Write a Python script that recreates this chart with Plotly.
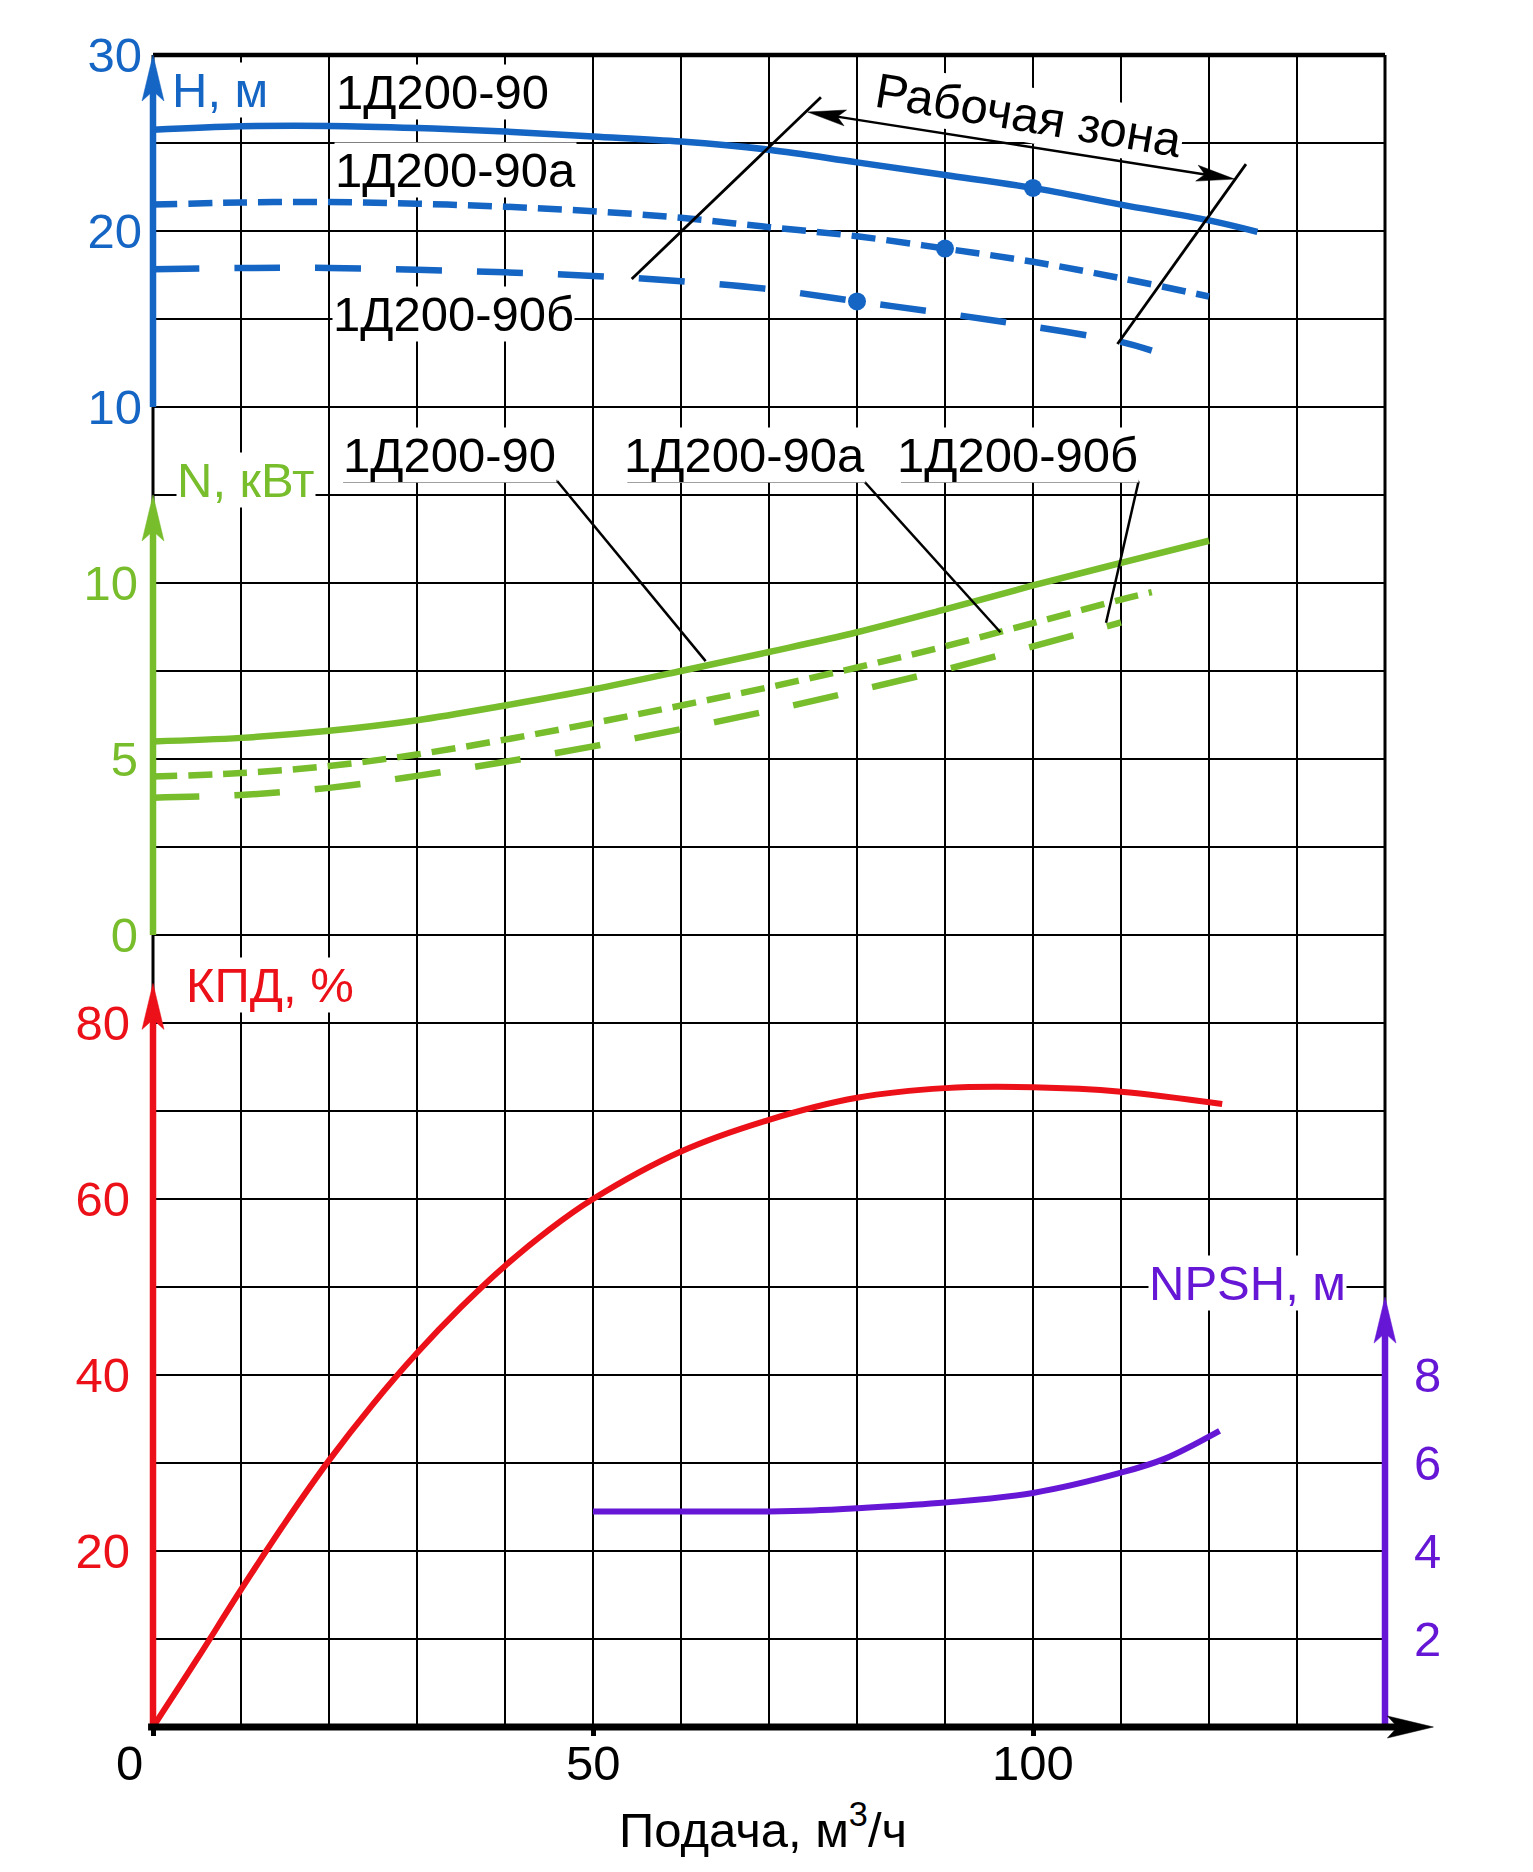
import math
import plotly.graph_objects as go

# ---------------- data ----------------
# Head H, m
Q_H90 = [0, 10, 20, 30, 40, 50, 60, 70, 80, 90, 100, 110, 120, 125.5]
H_90 = [25.75, 25.95, 25.97, 25.85, 25.65, 25.37, 25.08, 24.62, 23.9, 23.18, 22.45, 21.5, 20.6, 19.95]
Q_H90A = [0, 10, 20, 30, 40, 50, 60, 70, 80, 90, 100, 110, 120]
H_90A = [21.5, 21.62, 21.65, 21.55, 21.38, 21.12, 20.75, 20.22, 19.7, 19.0, 18.25, 17.32, 16.28]
Q_H90B = [0, 10, 20, 30, 40, 50, 60, 70, 80, 90, 100, 110, 113.5]
H_90B = [17.83, 17.9, 17.9, 17.8, 17.65, 17.45, 17.15, 16.7, 16.0, 15.32, 14.57, 13.7, 13.2]
PT_Q = [100, 90, 80]
PT_H = [22.45, 19.0, 16.0]

# Power N, kW
Q_N90 = [0, 10, 20, 30, 40, 50, 60, 70, 80, 90, 100, 110, 120]
N_90 = [5.5, 5.6, 5.8, 6.1, 6.52, 6.98, 7.5, 8.04, 8.6, 9.25, 9.93, 10.57, 11.2]
Q_N90A = [0, 10, 20, 30, 40, 50, 60, 70, 80, 90, 100, 110, 113.5]
N_90A = [4.5, 4.6, 4.8, 5.13, 5.55, 6.02, 6.52, 7.04, 7.6, 8.2, 8.86, 9.53, 9.74]
Q_N90B = [0, 10, 20, 30, 40, 50, 60, 70, 80, 90, 100, 110]
N_90B = [3.9, 3.98, 4.18, 4.52, 4.92, 5.36, 5.85, 6.37, 6.94, 7.54, 8.2, 8.88]

# Efficiency, %
Q_EFF = [0, 5, 10, 15, 20, 25, 30, 35, 40, 45, 50, 60, 70, 80, 90, 100, 110, 121.5]
EFF = [0, 7.7, 15.6, 23.2, 30.3, 36.7, 42.5, 47.7, 52.4, 56.5, 60.0, 65.4, 69.0, 71.5, 72.6, 72.7, 72.2, 70.8]

# NPSH, m
Q_NPSH = [50, 60, 70, 75, 80, 90, 100, 110, 115, 121.2]
NPSH = [4.9, 4.9, 4.9, 4.92, 4.97, 5.1, 5.32, 5.78, 6.1, 6.73]

X_TICKS = [0, 50, 100]
H_TICKS = [10, 20, 30]
N_TICKS = [0, 5, 10]
EFF_TICKS = [20, 40, 60, 80]
NPSH_TICKS = [2, 4, 6, 8]

LBL = ["1Д200-90", "1Д200-90а", "1Д200-90б"]

# ---------------- layout geometry ----------------
OFF = 8                      # page body margin of the html page
W, HT = 1517, 1856
ML, MT = 145, 47
PW, PH = 1232, 1672
MR, MB = W - ML - PW, HT - MT - PH
PLOT_L = OFF + ML            # page coordinates of the plot area
PLOT_B = OFF + MT + PH
X_RANGE = [0, 140]
H_RANGE = [-65, 30]
N_RANGE = [-22.5, 25]
E_RANGE = [0, 190]
P_RANGE = [0, 38]

def ppu(r, length):
    return length / (r[1] - r[0])

PX_X = ppu(X_RANGE, PW)
PX_H = ppu(H_RANGE, PH)
PX_N = ppu(N_RANGE, PH)
PX_E = ppu(E_RANGE, PH)
PX_P = ppu(P_RANGE, PH)

BLUE = "#1565c4"
GREEN = "#77bd2c"
RED = "#ec1018"
PURPLE = "#6617d6"
BLACK = "#000000"
FONT = "Liberation Sans, Arial, sans-serif"
FS = 49

SHORT_DASH = "24px,11px"
LONG_DASH = "46px,35px"

fig = go.Figure()

def line(x, y, yaxis, color, dash=None, width=6.5):
    fig.add_trace(go.Scatter(x=x, y=y, yaxis=yaxis, mode="lines",
                             line=dict(color=color, width=width, dash=dash, shape="spline"),
                             hoverinfo="skip", showlegend=False))

line(Q_H90, H_90, "y", BLUE)
line(Q_H90A, H_90A, "y", BLUE, SHORT_DASH)
line(Q_H90B, H_90B, "y", BLUE, LONG_DASH)
fig.add_trace(go.Scatter(x=PT_Q, y=PT_H, yaxis="y", mode="markers",
                         marker=dict(color=BLUE, size=18), hoverinfo="skip", showlegend=False))
line(Q_N90, N_90, "y2", GREEN)
line(Q_N90A, N_90A, "y2", GREEN, SHORT_DASH)
line(Q_N90B, N_90B, "y2", GREEN, LONG_DASH)
line(Q_EFF, EFF, "y3", RED, width=6)
line(Q_NPSH, NPSH, "y4", PURPLE, width=6)

shapes = []
annotations = []

def head_path(dx, dy, length=46, halfw=11, notch=36):
    L = math.hypot(dx, dy)
    ux, uy = dx / L, dy / L
    px, py = -uy, ux
    p1 = (-ux * length + px * halfw, -uy * length + py * halfw)
    p2 = (-ux * notch, -uy * notch)
    p3 = (-ux * length - px * halfw, -uy * length - py * halfw)
    return "M0,0L%.2f,%.2fL%.2f,%.2fL%.2f,%.2fZ" % (p1[0], p1[1], p2[0], p2[1], p3[0], p3[1])

def head(xref, yref, xa, ya, dx, dy, color, **kw):
    shapes.append(dict(type="path", xref=xref, yref=yref, xsizemode="pixel", ysizemode="pixel",
                       xanchor=xa, yanchor=ya, path=head_path(dx, dy, **kw),
                       fillcolor=color, line=dict(color=color, width=0.5)))

def seg(xref, yref, x0, y0, x1, y1, color=BLACK, width=2.5):
    shapes.append(dict(type="line", xref=xref, yref=yref, x0=x0, y0=y0, x1=x1, y1=y1,
                       line=dict(color=color, width=width)))

# frame
seg("paper", "paper", 0, 0, 0, 1, BLACK, 3)
seg("paper", "paper", 1, 0, 1, 1, BLACK, 3)
seg("paper", "paper", 0, 1, 1, 1, BLACK, 4.5)

# coloured axes with arrow heads
BACK = 30  # px, line stops inside the arrow head
seg("paper", "y", 0, 10, 0, H_RANGE[1] - BACK / PX_H, BLUE, 6.5)
head("paper", "y", 0, H_RANGE[1], 0, 1, BLUE)
N_TOP = 12.5
seg("paper", "y2", 0, 0, 0, N_TOP - BACK / PX_N, GREEN, 6.5)
head("paper", "y2", 0, N_TOP, 0, 1, GREEN)
E_TOP = 84.5
seg("paper", "y3", 0, 0, 0, E_TOP - BACK / PX_E, RED, 6.5)
head("paper", "y3", 0, E_TOP, 0, 1, RED)
P_TOP = 9.77
seg("paper", "y4", 1, 0, 1, P_TOP - BACK / PX_P, PURPLE, 6.5)
head("paper", "y4", 1, P_TOP, 0, 1, PURPLE)
X_TIP = 145.5 / X_RANGE[1]
seg("paper", "paper", -0.004, 0, X_TIP - BACK / PW, 0, BLACK, 7)
head("paper", "paper", X_TIP, 0, 1, 0, BLACK)

# working zone
seg("x", "y", 75.9, 27.6, 54.4, 17.27, BLACK, 2.8)
seg("x", "y", 124.2, 23.8, 109.6, 13.58, BLACK, 2.8)
A0 = (74.4, 26.76)
A1 = (122.9, 22.95)
dxp = (A1[0] - A0[0]) * PX_X
dyp = (A1[1] - A0[1]) * PX_H
Lp = math.hypot(dxp, dyp)
sh = 20 / Lp
seg("x", "y", A0[0] + (A1[0] - A0[0]) * sh, A0[1] + (A1[1] - A0[1]) * sh,
    A1[0] - (A1[0] - A0[0]) * sh, A1[1] - (A1[1] - A0[1]) * sh, BLACK, 2.5)
head("x", "y", A1[0], A1[1], dxp, dyp, BLACK, length=38, halfw=8, notch=30)
head("x", "y", A0[0], A0[1], -dxp, -dyp, BLACK, length=38, halfw=8, notch=30)

# leader lines for power curves
UL_Y = 12.89
seg("x", "y2", 21.6, UL_Y, 45.95, UL_Y, BLACK, 2.8)
seg("x", "y2", 45.95, UL_Y, 62.8, 7.78, BLACK, 2.5)
seg("x", "y2", 53.9, UL_Y, 80.8, UL_Y, BLACK, 2.8)
seg("x", "y2", 80.8, UL_Y, 96.3, 8.6, BLACK, 2.5)
seg("x", "y2", 85.0, UL_Y, 112.0, UL_Y, BLACK, 2.8)
seg("x", "y2", 112.0, UL_Y, 108.3, 8.87, BLACK, 2.5)

def text(t, x, y, xref, yref, color=BLACK, xanchor="center", angle=0, size=FS, bg="white"):
    a = dict(text=t, x=x, y=y, xref=xref, yref=yref, showarrow=False,
             xanchor=xanchor, yanchor="middle", textangle=angle,
             font=dict(family=FONT, size=size, color=color), borderpad=0)
    if bg:
        a["bgcolor"] = bg
    annotations.append(a)

text(LBL[0], 32.9, 27.9, "x", "y")
text(LBL[1], 34.4, 23.45, "x", "y")
text(LBL[2], 34.2, 15.3, "x", "y")
text(LBL[0], 33.7, 13.65, "x", "y2")
text(LBL[1], 67.2, 13.65, "x", "y2")
text(LBL[2], 98.2, 13.65, "x", "y2")
text("Рабочая зона", 99.5, 26.6, "x", "y", angle=9.5)
text("H, м", 2.0, 28.0, "x", "y", BLUE, "left")
text("N, кВт", 2.6, 12.93, "x", "y2", GREEN, "left")
text("КПД, %", 3.6, 84.3, "x", "y3", RED, "left")
text("NPSH, м", 124.4, 10.09, "x", "y4", PURPLE)

# x tick labels (the "0" sits left of the corner as in the reference)
TICK_Y = -(1763 - PLOT_B) / PH
for v in X_TICKS:
    shift = -24 if v == 0 else 0
    text(str(v), (v * PX_X + shift) / PW, TICK_Y, "paper", "paper", bg=None)
text("Подача, м<sup>3</sup>/ч", (763 - PLOT_L) / PW, -(1826 - PLOT_B) / PH, "paper", "paper", bg=None)

def yax(rng, ticks, color, standoff, side="left", overlay=True, **kw):
    d = dict(range=rng, tickvals=ticks, ticktext=[str(t) for t in ticks], side=side,
             showgrid=False, zeroline=False, showline=False, ticks="",
             tickfont=dict(family=FONT, size=FS, color=color), ticklabelstandoff=standoff,
             fixedrange=True, anchor="x")
    if overlay:
        d["overlaying"] = "y"
    d.update(kw)
    return d

fig.update_layout(
    width=W, height=HT,
    margin=dict(l=ML, r=MR, t=MT, b=MB, pad=0),
    paper_bgcolor="white", plot_bgcolor="white",
    font=dict(family=FONT, size=FS, color=BLACK),
    showlegend=False,
    xaxis=dict(range=X_RANGE, tickvals=X_TICKS, showticklabels=False,
               showgrid=True, gridcolor=BLACK, gridwidth=1.6,
               minor=dict(dtick=10, tick0=0, showgrid=True, gridcolor=BLACK, gridwidth=1.6, ticks=""),
               ticks="outside", ticklen=8, tickwidth=5, tickcolor=BLACK,
               zeroline=False, showline=False, fixedrange=True),
    yaxis=yax(H_RANGE, H_TICKS, BLUE, 10, overlay=False),
    yaxis2=yax(N_RANGE, N_TICKS, GREEN, 14),
    yaxis3=yax(E_RANGE, EFF_TICKS, RED, 22, showgrid=True, gridcolor=BLACK, gridwidth=1.6,
               minor=dict(dtick=10, tick0=0, showgrid=True, gridcolor=BLACK, gridwidth=1.6, ticks="")),
    yaxis4=yax(P_RANGE, NPSH_TICKS, PURPLE, 28, side="right"),
    shapes=shapes,
    annotations=annotations,
)

fig.write_html("out.html")
